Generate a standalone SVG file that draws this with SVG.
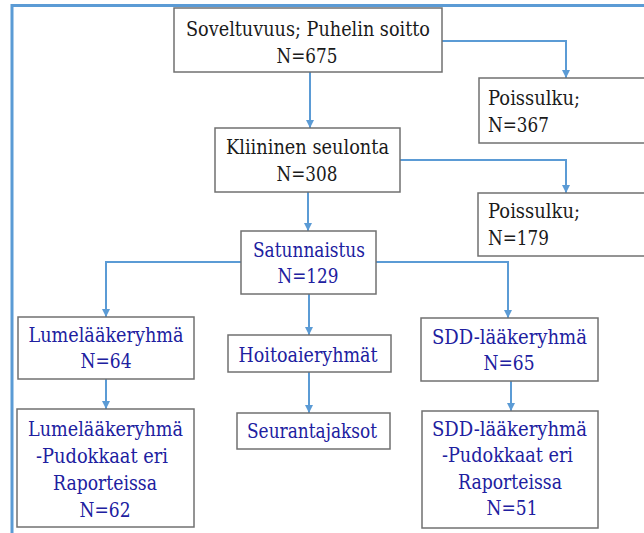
<svg xmlns="http://www.w3.org/2000/svg" width="644" height="533" viewBox="0 0 644 533">
<style>
.box{fill:#fff;stroke:#707070;stroke-width:1.5}
text{font-family:'DejaVu Serif','Liberation Serif',serif;font-size:20.5px;text-anchor:middle}
.k{fill:#1a1a1a}
.b{fill:#2020a0}
.l{text-anchor:start}
.c{fill:none;stroke:#5b9bd5;stroke-width:2}
.frame{fill:none;stroke:#5b9bd5;stroke-width:3}
</style>
<defs>
<marker id="arr" markerUnits="userSpaceOnUse" markerWidth="8" markerHeight="8" refX="8" refY="4" orient="auto">
<path d="M0,0 L8,4 L0,8 z" fill="#5b9bd5"/>
</marker>
</defs>
<rect width="644" height="533" fill="#fff"/>
<path class="frame" d="M12,533 V5.5 H644"/>
<g id="connectors">
<path class="c" d="M310,72 V128" marker-end="url(#arr)"/>
<path class="c" d="M442,41 H566 V78" marker-end="url(#arr)"/>
<path class="c" d="M308,192 V231" marker-end="url(#arr)"/>
<path class="c" d="M400,160 H566 V193" marker-end="url(#arr)"/>
<path class="c" d="M241,262 H106 V317" marker-end="url(#arr)"/>
<path class="c" d="M376,262 H508 V318" marker-end="url(#arr)"/>
<path class="c" d="M309,294 V335" marker-end="url(#arr)"/>
<path class="c" d="M106,379 V409" marker-end="url(#arr)"/>
<path class="c" d="M309,372 V413" marker-end="url(#arr)"/>
<path class="c" d="M511,381 V411" marker-end="url(#arr)"/>
</g>
<g id="soveltuvuus">
<rect class="box" x="174" y="8" width="268" height="64"/>
<text class="k" x="308" y="36" textLength="244" lengthAdjust="spacingAndGlyphs">Soveltuvuus; Puhelin soitto</text>
<text class="k" x="307" y="63" textLength="61" lengthAdjust="spacingAndGlyphs">N=675</text>
</g>
<g id="poissulku1">
<rect class="box" x="479" y="78" width="175" height="65"/>
<text class="k l" x="488" y="105" textLength="92" lengthAdjust="spacingAndGlyphs">Poissulku;</text>
<text class="k l" x="488" y="132" textLength="61" lengthAdjust="spacingAndGlyphs">N=367</text>
</g>
<g id="kliininen">
<rect class="box" x="215" y="128" width="185" height="64"/>
<text class="k" x="307.5" y="154" textLength="163" lengthAdjust="spacingAndGlyphs">Kliininen seulonta</text>
<text class="k" x="307" y="181" textLength="61" lengthAdjust="spacingAndGlyphs">N=308</text>
</g>
<g id="poissulku2">
<rect class="box" x="478" y="193" width="176" height="63"/>
<text class="k l" x="488" y="218" textLength="92" lengthAdjust="spacingAndGlyphs">Poissulku;</text>
<text class="k l" x="488" y="245" textLength="61" lengthAdjust="spacingAndGlyphs">N=179</text>
</g>
<g id="satunnaistus">
<rect class="box" x="241" y="231" width="135" height="63"/>
<text class="b" x="309" y="257" textLength="112" lengthAdjust="spacingAndGlyphs">Satunnaistus</text>
<text class="b" x="308" y="283" textLength="61" lengthAdjust="spacingAndGlyphs">N=129</text>
</g>
<g id="lume">
<rect class="box" x="18" y="317" width="176" height="62"/>
<text class="b" x="106" y="342" textLength="155" lengthAdjust="spacingAndGlyphs">Lumelääkeryhmä</text>
<text class="b" x="106" y="368" textLength="51" lengthAdjust="spacingAndGlyphs">N=64</text>
</g>
<g id="hoitoaie">
<rect class="box" x="228" y="335" width="163" height="37"/>
<text class="b" x="308" y="362" textLength="139" lengthAdjust="spacingAndGlyphs">Hoitoaieryhmät</text>
</g>
<g id="sdd">
<rect class="box" x="421" y="318" width="177" height="63"/>
<text class="b" x="509.5" y="344" textLength="155" lengthAdjust="spacingAndGlyphs">SDD-lääkeryhmä</text>
<text class="b" x="509" y="370" textLength="51" lengthAdjust="spacingAndGlyphs">N=65</text>
</g>
<g id="lume62">
<rect class="box" x="17" y="409" width="177" height="118"/>
<text class="b" x="105.5" y="436" textLength="155" lengthAdjust="spacingAndGlyphs">Lumelääkeryhmä</text>
<text class="b" x="102" y="463" textLength="132" lengthAdjust="spacingAndGlyphs">-Pudokkaat eri</text>
<text class="b" x="105" y="490" textLength="104" lengthAdjust="spacingAndGlyphs">Raporteissa</text>
<text class="b" x="105" y="517" textLength="51" lengthAdjust="spacingAndGlyphs">N=62</text>
</g>
<g id="seuranta">
<rect class="box" x="237" y="413" width="153" height="36"/>
<text class="b" x="312" y="438" textLength="130" lengthAdjust="spacingAndGlyphs">Seurantajaksot</text>
</g>
<g id="sdd51">
<rect class="box" x="422" y="411" width="176" height="117"/>
<text class="b" x="509.5" y="436" textLength="155" lengthAdjust="spacingAndGlyphs">SDD-lääkeryhmä</text>
<text class="b" x="507.5" y="462" textLength="131" lengthAdjust="spacingAndGlyphs">-Pudokkaat eri</text>
<text class="b" x="510" y="489" textLength="104" lengthAdjust="spacingAndGlyphs">Raporteissa</text>
<text class="b" x="512" y="515" textLength="51" lengthAdjust="spacingAndGlyphs">N=51</text>
</g>
</svg>
